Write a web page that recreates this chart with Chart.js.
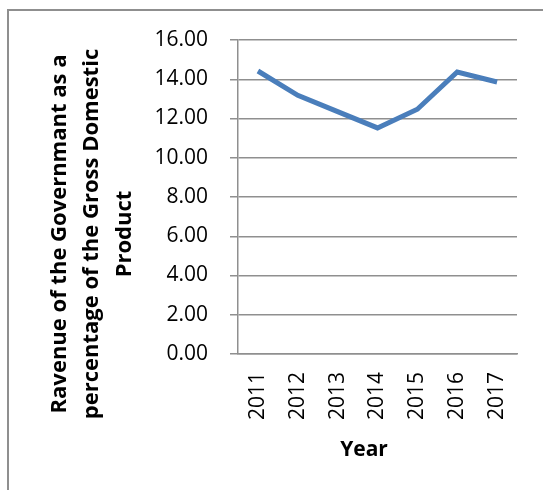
<!DOCTYPE html>
<html>
<head>
<meta charset="utf-8">
<script src="https://cdn.jsdelivr.net/npm/chart.js@4"></script>
<style>
  body { margin: 0; background: #fff; overflow: hidden; }
  #frame { position: absolute; left: 7px; top: 9px; width: 700px; height: 700px; border: 2px solid #8f8f8f; }
  #chart { position: absolute; left: 0; top: 0; }
</style>
</head>
<body>
<div id="frame"></div>
<canvas id="chart" width="543" height="490"></canvas>
<script>
// Revenue of government as % of GDP
const years = ['2011', '2012', '2013', '2014', '2015', '2016', '2017'];
const revenue = [14.42, 13.18, 12.35, 11.52, 12.47, 14.37, 13.86];
const yTicks = [0, 2, 4, 6, 8, 10, 12, 14, 16];

const yTitle = ['Ravenue of the Governmant as a', 'percentage of the Gross Domestic', 'Product'];
const xTitle = 'Year';

// axis titles drawn by hand so they sit where Excel put them
const titles = {
    id: 'titles',
    afterDraw(chart) {
        const ctx = chart.ctx;
        ctx.save();
        ctx.fillStyle = '#000';
        ctx.font = 'bold 21px "Open Sans"';
        ctx.textAlign = 'center';
        ctx.textBaseline = 'middle';
        ctx.fillText(xTitle, 364, 450);
        ctx.font = 'bold 22px "Open Sans"';
        ctx.translate(92, 234);
        ctx.rotate(-Math.PI / 2);
        yTitle.forEach((line, i) => {
            ctx.fillText(line, 0, (i - 1) * 32.5);
        });
        ctx.restore();
    }
};

const ctx = document.getElementById('chart').getContext('2d');
new Chart(ctx, {
    type: 'line',
    data: {
        labels: years,
        datasets: [{
            data: revenue,
            borderColor: '#4a7ebb',
            borderWidth: 5,
            pointRadius: 0,
            tension: 0,
            fill: false
        }]
    },
    options: {
        responsive: false,
        animation: false,
        layout: { padding: { top: 40, right: 26, left: 0, bottom: 0 } },
        plugins: { legend: { display: false }, tooltip: { enabled: false } },
        scales: {
            x: {
                offset: true,
                grid: { display: false, drawTicks: false },
                border: { display: true, color: '#8f8f8f', width: 1.5 },
                ticks: {
                    color: '#000',
                    font: { family: '"Open Sans"', size: 21 },
                    minRotation: 90,
                    maxRotation: 90,
                    padding: 18
                },
                afterFit(scale) { scale.height = 136; }
            },
            y: {
                min: 0,
                max: 16,
                afterBuildTicks(scale) { scale.ticks = yTicks.map(v => ({ value: v })); },
                grid: { color: '#8f8f8f', lineWidth: 1.5, tickLength: 8 },
                border: { display: true, color: '#8f8f8f', width: 1.5 },
                ticks: {
                    color: '#000',
                    font: { family: '"Open Sans"', size: 21 },
                    padding: 22,
                    callback: v => v.toFixed(2)
                },
                afterFit(scale) { scale.width = 238; }
            }
        }
    },
    plugins: [titles]
});
</script>
</body>
</html>
